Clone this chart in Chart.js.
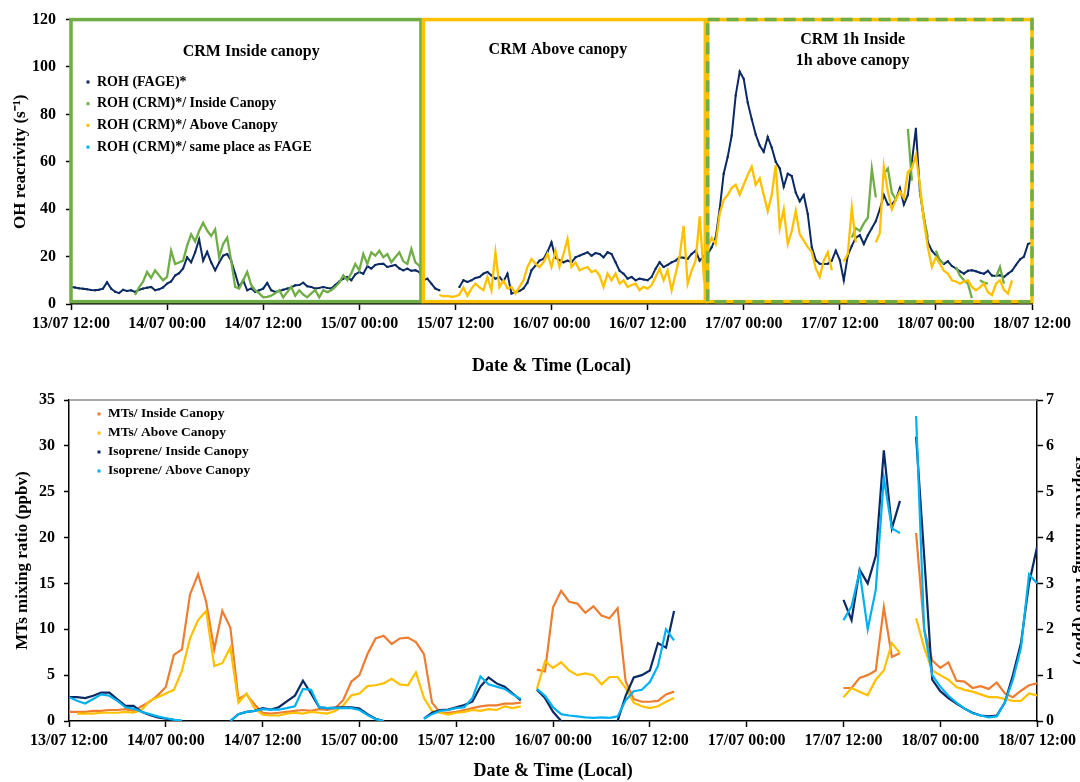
<!DOCTYPE html>
<html>
<head>
<meta charset="utf-8">
<script src="https://cdn.jsdelivr.net/npm/chart.js@4.4.1/dist/chart.umd.min.js"></script>
<style>
  html, body { margin: 0; padding: 0; background: #fff; }
  #wrap { position: relative; width: 1080px; height: 782px; overflow: hidden; }
  #top { position: absolute; left: 0; top: 0; width: 1080px; height: 380px; }
  #bot { position: absolute; left: 0; top: 380px; width: 1080px; height: 402px; }
</style>
</head>
<body>
<div id="wrap">
  <div id="top"><canvas id="ohChart"></canvas></div>
  <div id="bot"><canvas id="vocChart"></canvas></div>
</div>
<script>
// time = hours since 13/07 12:00, one tick label every 12 h
const tickLabels = ['13/07 12:00', '14/07 00:00', '14/07 12:00', '15/07 00:00', '15/07 12:00',
  '16/07 00:00', '16/07 12:00', '17/07 00:00', '17/07 12:00', '18/07 00:00', '18/07 12:00'];
const halfHours = Array.from({ length: 241 }, (_, i) => i / 2);   // top panel, 30 min
const hours = Array.from({ length: 121 }, (_, i) => i);           // bottom panel, 1 h

// OH reactivity (s-1), 30-min values, one row = 10 h
const ohFage = [
  7.2, 7.0, 6.6, 6.4, 6.2, 5.9, 5.8, 6.0, 6.5, 9.2, 6.5, 5.2, 4.6, 6.0, 5.5, 5.8, 5.1, 6.0, 6.5, 6.9,
  7.2, 5.8, 6.2, 7.0, 8.6, 9.5, 12.0, 13.0, 15.0, 19.7, 17.6, 21.8, 27.3, 18.3, 22.0, 17.6, 14.2, 17.5, 20.4, 21.1,
  18.3, 12.8, 7.2, 10.0, 5.8, 6.5, 5.1, 5.8, 6.5, 8.9, 5.8, 5.1, 5.5, 6.0, 6.5, 7.0, 7.9, 8.0, 9.0, 7.5,
  7.2, 6.5, 6.8, 7.2, 6.8, 6.5, 8.0, 9.5, 10.7, 11.4, 10.0, 12.5, 13.5, 12.8, 15.9, 15.0, 16.5, 16.9, 17.0, 15.6,
  16.0, 16.5, 15.0, 14.2, 14.9, 14.0, 14.2, 13.5, 10.0, 10.7, 8.6, 6.5, 5.8, null, null, null, null, 7.2, 10.0, 9.3,
  10.0, 11.0, 11.4, 12.8, 13.5, 12.0, 10.7, 11.4, 9.5, 12.8, 4.4, 5.1, 5.5, 6.5, 9.0, 14.2, 16.2, 18.3, 19.0, 22.0,
  26.0, 19.5, 18.5, 17.6, 18.3, 17.6, 19.7, 20.4, 21.1, 21.8, 20.4, 21.5, 21.1, 19.7, 21.8, 21.1, 17.6, 14.0, 12.8, 10.7,
  11.4, 10.0, 10.7, 10.3, 10.0, 11.4, 14.9, 17.6, 15.6, 16.5, 17.6, 18.3, 19.7, 19.5, 19.0, 21.1, 22.5, 18.3, 20.0, 21.1,
  23.9, 28.0, 40.0, 55.0, 62.0, 71.1, 88.0, 98.0, 95.0, 85.0, 78.0, 71.5, 66.9, 64.2, 70.5, 66.0, 60.0, 57.2, 49.5, 55.0,
  54.0, 47.0, 43.3, 46.0, 38.0, 24.0, 18.5, 17.0, 16.9, 17.0, 18.3, 22.5, 18.5, 10.0, 20.5, 24.5, 28.0, 29.0, 25.3, 29.0,
  32.0, 35.0, 40.0, 46.0, 42.0, 42.0, 44.0, 48.9, 42.0, 46.0, 60.0, 74.0, 47.5, 36.4, 26.0, 22.5, 20.5, 18.5, 16.9, 18.0,
  16.0, 15.0, 13.8, 12.8, 14.0, 14.2, 13.8, 13.2, 12.8, 14.0, 12.0, 11.8, 12.1, 11.4, 12.8, 14.0, 16.5, 18.8, 20.0, 25.3,
  26.0
];
const ohCrmIn = [
  null, null, null, null, null, null, null, null, null, null, null, null, null, null, null, null, 3.8, 7.0, 9.4, 13.5,
  11.0, 14.2, 12.0, 10.0, 11.4, 22.5, 16.9, 17.5, 18.3, 24.6, 29.4, 26.4, 30.8, 34.3, 31.0, 28.7, 31.5, 19.7, 25.3, 28.0,
  18.3, 7.2, 6.5, 10.0, 13.5, 8.0, 5.8, 4.5, 2.8, 3.0, 3.5, 4.5, 5.8, 2.8, 5.0, 7.2, 3.5, 5.8, 4.0, 2.8,
  4.5, 5.8, 2.8, 5.8, 5.0, 5.8, 7.2, 9.0, 12.1, 10.0, 13.0, 16.9, 14.2, 21.1, 16.9, 21.8, 20.4, 22.5, 19.7, 21.1,
  17.6, 19.7, 21.8, 18.0, 16.9, 23.2, 17.6, 16.2, 10.0, null, null, null, null, null, null, null, null, null, null, null,
  null, null, null, null, null, null, null, null, null, null, null, null, null, null, null, null, null, null, null, null,
  null, null, null, null, null, null, null, null, null, null, null, null, null, null, null, null, null, null, null, null,
  null, null, null, null, null, null, null, null, null, null, null, null, null, null, null, null, null, null, null, null,
  null, null, null, null, null, null, null, null, null, null, null, null, null, null, null, null, null, null, null, null,
  null, null, null, null, null, null, null, null, null, null, null, null, null, null, null, 28.0, 32.0, 30.8, 34.0, 36.4,
  57.0, 45.0, null, 55.0, 57.2, 47.0, 44.0, null, null, 73.9, 52.0, null, 47.5, 36.4, 28.0, null, 22.5, 18.3, 17.0, null,
  null, 15.6, 12.0, 10.0, 8.6, 2.4, null, 10.0, 9.0, 8.6, null, 11.4, 15.6, 8.6, null, null, null, null, null, null,
  null
];
const ohCrmAb = [
  null, null, null, null, null, null, null, null, null, null, null, null, null, null, null, null, null, null, null, null,
  null, null, null, null, null, null, null, null, null, null, null, null, null, null, null, null, null, null, null, null,
  null, null, null, null, null, null, null, null, null, null, null, null, null, null, null, null, null, null, null, null,
  null, null, null, null, null, null, null, null, null, null, null, null, null, null, null, null, null, null, null, null,
  null, null, null, null, null, null, null, null, null, null, null, null, 3.8, 3.2, 3.4, 3.0, 3.2, 4.0, 7.0, 3.5,
  6.5, 8.6, 7.0, 5.8, 11.4, 5.8, 21.8, 7.2, 10.0, 6.5, 7.2, 4.4, 7.2, 10.0, 15.6, 19.0, 17.0, 15.6, 17.6, 21.1,
  15.6, 22.5, 15.6, 21.1, 27.4, 15.6, 17.6, 14.2, 15.0, 15.6, 13.5, 14.2, 12.0, 7.2, 12.8, 10.0, 12.8, 8.6, 10.0, 7.2,
  8.0, 8.6, 5.8, 7.2, 6.5, 8.0, 11.4, 14.9, 10.0, 14.2, 5.8, 12.8, 20.0, 33.0, 8.6, 14.2, 18.3, 37.0, 12.8, 24.0,
  28.0, 25.3, 38.0, 44.0, 46.0, 49.0, 50.3, 46.1, 50.3, 54.4, 57.9, 50.3, 53.0, 46.0, 39.2, 46.1, 58.6, 32.2, 40.0, 25.3,
  30.8, 39.2, 29.4, 26.7, 24.0, 22.0, 15.0, 11.4, 18.3, 21.8, 14.2, null, null, 18.0, 21.1, 40.6, 26.0, null, null, null,
  null, 26.0, 30.0, 57.9, 47.5, 40.0, 44.0, 47.5, 44.7, 55.8, 57.2, 62.8, 50.3, 35.0, 23.9, 15.6, 19.7, 16.9, 14.0, 12.8,
  10.0, 9.5, 8.6, 9.5, 10.0, 7.2, 5.8, 7.0, 8.6, 5.0, 3.75, 8.6, 10.0, 6.0, 4.4, 10.0, null, null, null, null,
  null
];
const ohCrmFage = [];

// MTs (ppbv, left axis), hourly, one row = 10 h
const mtsIn = [
  1.0, 1.0, 1.0, 1.1, 1.1, 1.2, 1.2, 1.3, 1.1, 1.6,
  2.1, 2.8, 3.7, 7.2, 7.8, 13.8, 16.0, 13.0, 7.8, 12.0,
  10.2, 2.4, 2.9, 1.8, 0.9, 0.8, 0.9, 1.0, 1.1, 1.2,
  1.1, 1.3, 1.2, 1.4, 2.3, 4.3, 5.0, 7.3, 9.0, 9.3,
  8.4, 9.0, 9.1, 8.6, 7.3, 2.0, 0.9, 0.9, 1.0, 1.2,
  1.4, 1.6, 1.7, 1.7, 1.9, 1.9, 2.0, null, 5.6, 5.4,
  12.4, 14.2, 13.0, 12.8, 11.8, 12.5, 11.5, 11.2, 12.3, 4.3,
  2.4, 2.1, 2.1, 2.2, 2.9, 3.2, null, null, null, null,
  null, null, null, null, null, null, null, null, null, null,
  null, null, null, null, null, null, 3.6, 3.6, 4.7, 5.0,
  5.5, 12.4, 7.0, 7.4, null, 20.5, 10.0, 6.6, 5.8, 6.4,
  4.4, 4.3, 3.6, 3.8, 3.5, 4.2, 3.0, 2.6, 3.3, 3.9,
  4.1
];
const mtsAb = [
  null, 0.8, 0.8, 0.8, 0.9, 0.9, 0.9, 1.0, 0.9, 1.2,
  2.2, 2.6, 3.0, 3.4, 5.5, 9.0, 11.0, 12.0, 6.0, 6.3,
  8.0, 2.0, 3.0, 1.4, 0.7, 0.6, 0.6, 0.8, 0.9, 0.8,
  1.0, 0.9, 0.8, 1.1, 1.7, 2.8, 3.0, 3.8, 3.9, 4.1,
  4.6, 4.0, 3.9, 5.3, 2.5, 1.1, 0.9, 0.7, 0.9, 1.0,
  1.2, 1.1, 1.3, 1.2, 1.6, 1.4, 1.6, null, 3.5, 6.5,
  5.8, 6.4, 5.5, 5.0, 5.2, 5.0, 4.0, 4.8, 4.8, 3.6,
  2.0, 1.6, 1.4, 1.6, 2.1, 2.5, null, null, null, null,
  null, null, null, null, null, null, null, null, null, null,
  null, null, null, null, null, null, 2.6, 3.6, 3.2, 2.8,
  4.5, 5.5, 8.5, 7.4, null, 11.2, 8.0, 5.5, 5.0, 4.5,
  3.7, 3.4, 3.2, 2.9, 2.6, 2.6, 2.4, 2.2, 2.2, 3.0,
  2.8
];
// Isoprene (ppbv, right axis), hourly
const isoIn = [
  0.52, 0.52, 0.50, 0.55, 0.62, 0.62, 0.47, 0.33, 0.33, 0.20,
  0.13, 0.08, 0.05, 0.02, 0.0, null, null, null, null, null,
  0.0, 0.15, 0.20, 0.22, 0.28, 0.25, 0.30, 0.43, 0.55, 0.88,
  0.60, 0.30, 0.28, 0.29, 0.30, 0.30, 0.27, 0.15, 0.05, 0.0,
  null, null, null, null, 0.05, 0.18, 0.24, 0.25, 0.30, 0.35,
  0.42, 0.75, 0.95, 0.82, 0.75, 0.60, 0.45, null, 0.68, 0.50,
  0.20, 0.0, null, null, null, null, null, null, 0.0, 0.55,
  0.95, 1.0, 1.1, 1.7, 1.6, 2.4, null, null, null, null,
  null, null, null, null, null, null, null, null, null, null,
  null, null, null, null, null, null, 2.64, 2.2, 3.3, 3.0,
  3.6, 5.9, 4.2, 4.8, null, 6.2, 3.6, 0.9, 0.65, 0.5,
  0.38, 0.27, 0.18, 0.12, 0.1, 0.12, 0.4, 1.0, 1.7, 3.0,
  3.8
];
const isoAb = [
  0.52, 0.44, 0.38, 0.48, 0.58, 0.55, 0.44, 0.30, 0.27, 0.20,
  0.15, 0.10, 0.06, 0.03, 0.01, null, null, null, null, null,
  0.0, 0.15, 0.20, 0.22, 0.26, 0.25, 0.25, 0.28, 0.32, 0.70,
  0.68, 0.30, 0.28, 0.28, 0.28, 0.28, 0.24, 0.13, 0.04, 0.0,
  null, null, null, null, 0.05, 0.15, 0.22, 0.24, 0.28, 0.30,
  0.50, 0.97, 0.80, 0.75, 0.70, 0.58, 0.48, null, 0.70, 0.55,
  0.30, 0.15, 0.12, 0.10, 0.08, 0.07, 0.08, 0.07, 0.10, 0.45,
  0.65, 0.68, 0.85, 1.2, 2.0, 1.76, null, null, null, null,
  null, null, null, null, null, null, null, null, null, null,
  null, null, null, null, null, null, 2.2, 2.5, 3.26, 2.0,
  2.86, 5.3, 4.2, 4.1, null, 6.65, 2.0, 1.0, 0.75, 0.55,
  0.40, 0.27, 0.17, 0.12, 0.08, 0.10, 0.4, 0.9, 1.6, 3.2,
  3.0
];

// CRM sampling periods (hours) drawn as frames in the top panel
const periods = [
  { from: 0, to: 43.7, line: '#70AD47' },
  { from: 44.0, to: 79.2, line: '#FFC000' },
  { from: 79.5, to: 120, line: '#FFC000', dash: '#70AD47' }
];
const periodTitles = [
  { h: 22.5, v: 106.5, text: 'CRM Inside canopy' },
  { h: 60.8, v: 107.2, text: 'CRM Above canopy' },
  { h: 97.6, v: 111.6, text: 'CRM 1h Inside' },
  { h: 97.6, v: 102.8, text: '1h above canopy' }
];

const NAVY = '#0B2A63', GREEN = '#70AD47', YELLOW = '#FFC000', SKY = '#00B0F0', ORANGE = '#ED7D31';
const serif = '"Liberation Serif", "Times New Roman", serif';
Chart.defaults.font.family = serif;
Chart.defaults.font.weight = 'bold';
Chart.defaults.color = '#000';

function pts(times, vals) {
  return times.map((t, i) => ({ x: t, y: vals[i] === undefined ? null : vals[i] }));
}

function xAxis(height, pad, titlePad) {
  return {
    type: 'linear', min: 0, max: 120,
    afterFit: s => { s.height = height; },
    ticks: { stepSize: 12, autoSkip: false, maxRotation: 0, padding: pad, font: { size: 16 },
      callback: v => tickLabels[v / 12] },
    grid: { drawOnChartArea: false, tickLength: 6, tickColor: '#000', tickWidth: 1.5 },
    border: { color: '#000', width: 1.5 },
    title: { display: true, text: 'Date & Time (Local)', font: { size: 18 }, padding: { bottom: titlePad } }
  };
}

function drawLegend(ctx, items, x0, y0, step, size) {
  ctx.font = 'bold ' + size + 'px ' + serif;
  ctx.textBaseline = 'middle';
  ctx.textAlign = 'left';
  items.forEach((it, i) => {
    const y = y0 + i * step;
    ctx.fillStyle = it.color;
    ctx.fillRect(x0 - 1.5, y - 1.5, 3, 3);
    ctx.fillStyle = '#000';
    ctx.fillText(it.label, x0 + 9, y);
  });
}

const ohDecor = {
  id: 'ohDecor',
  afterDatasetsDraw(chart) {
    const { ctx, scales: { x, y } } = chart;
    ctx.save();
    ctx.lineWidth = 3.5;
    periods.forEach(p => {
      const l = x.getPixelForValue(p.from), r = x.getPixelForValue(p.to);
      const t = y.getPixelForValue(120), b = y.getPixelForValue(1);
      ctx.setLineDash([]);
      ctx.strokeStyle = p.line;
      ctx.strokeRect(l, t, r - l, b - t);
      if (p.dash) {
        ctx.setLineDash([12, 7]);
        ctx.strokeStyle = p.dash;
        ctx.strokeRect(l, t, r - l, b - t);
      }
    });
    ctx.setLineDash([]);
    ctx.font = 'bold 16px ' + serif;
    ctx.fillStyle = '#000';
    ctx.textAlign = 'center';
    ctx.textBaseline = 'middle';
    periodTitles.forEach(t => ctx.fillText(t.text, x.getPixelForValue(t.h), y.getPixelForValue(t.v)));
    const items = chart.data.datasets.map(d => ({ label: d.label, color: d.borderColor }));
    drawLegend(ctx, items, chart.chartArea.left + 17, 82, 21.7, 14);
    ctx.restore();
  }
};

const vocDecor = {
  id: 'vocDecor',
  afterDatasetsDraw(chart) {
    const { ctx, chartArea: a } = chart;
    ctx.save();
    ctx.strokeStyle = '#8c8c8c';
    ctx.lineWidth = 1.5;
    ctx.beginPath();
    ctx.moveTo(a.left, a.top);
    ctx.lineTo(a.right, a.top);
    ctx.stroke();
    const items = chart.data.datasets.map(d => ({ label: d.label, color: d.borderColor }));
    drawLegend(ctx, items, a.left + 30, a.top + 14, 19, 13.5);
    ctx.restore();
  }
};

const common = {
  responsive: true,
  maintainAspectRatio: false,
  animation: false,
  events: [],
  plugins: { legend: { display: false }, tooltip: { enabled: false } }
};

new Chart(document.getElementById('ohChart'), {
  type: 'line',
  data: {
    datasets: [
      { label: 'ROH (FAGE)*', data: pts(halfHours, ohFage), borderColor: NAVY, backgroundColor: NAVY,
        borderWidth: 2, pointRadius: 1.4, pointStyle: 'rect', pointBorderWidth: 0, order: 3 },
      { label: 'ROH (CRM)*/ Inside Canopy', data: pts(halfHours, ohCrmIn), borderColor: GREEN, backgroundColor: GREEN,
        borderWidth: 2.3, pointRadius: 0, order: 2 },
      { label: 'ROH (CRM)*/ Above Canopy', data: pts(halfHours, ohCrmAb), borderColor: YELLOW, backgroundColor: YELLOW,
        borderWidth: 2.3, pointRadius: 0, order: 1 },
      { label: 'ROH (CRM)*/ same place as FAGE', data: pts(halfHours, ohCrmFage), borderColor: SKY, backgroundColor: SKY,
        borderWidth: 2, pointRadius: 0, order: 0 }
    ]
  },
  options: Object.assign({}, common, {
    layout: { padding: { top: 16, right: 48, left: 0, bottom: 0 } },
    scales: {
      x: xAxis(76, 4, 3),
      y: {
        min: 0, max: 120,
        afterFit: s => { s.width = 71; },
        ticks: { stepSize: 20, padding: 10, font: { size: 16 } },
        grid: { drawOnChartArea: false, tickLength: 5, tickColor: '#000', tickWidth: 1.5 },
        border: { color: '#000', width: 1.5 },
        title: { display: true, text: 'OH reacrivity (s⁻¹)', font: { size: 17 }, padding: { top: 10 } }
      }
    }
  }),
  plugins: [ohDecor]
});

new Chart(document.getElementById('vocChart'), {
  type: 'line',
  data: {
    datasets: [
      { label: 'MTs/ Inside Canopy', data: pts(hours, mtsIn), borderColor: ORANGE, backgroundColor: ORANGE,
        borderWidth: 2.2, pointRadius: 0, yAxisID: 'y', order: 3 },
      { label: 'MTs/ Above Canopy', data: pts(hours, mtsAb), borderColor: YELLOW, backgroundColor: YELLOW,
        borderWidth: 2.2, pointRadius: 0, yAxisID: 'y', order: 2 },
      { label: 'Isoprene/ Inside Canopy', data: pts(hours, isoIn), borderColor: NAVY, backgroundColor: NAVY,
        borderWidth: 2.2, pointRadius: 0, yAxisID: 'y2', order: 1 },
      { label: 'Isoprene/ Above Canopy', data: pts(hours, isoAb), borderColor: SKY, backgroundColor: SKY,
        borderWidth: 2.2, pointRadius: 0, yAxisID: 'y2', order: 0 }
    ]
  },
  options: Object.assign({}, common, {
    layout: { padding: { top: 20, right: 0, left: 0, bottom: 0 } },
    scales: {
      x: xAxis(61, 4, 0),
      y: {
        position: 'left', min: 0, max: 35,
        afterFit: s => { s.width = 69; },
        ticks: { stepSize: 5, padding: 9, font: { size: 16 } },
        grid: { drawOnChartArea: false, tickLength: 5, tickColor: '#000', tickWidth: 1.5 },
        border: { color: '#000', width: 1.5 },
        title: { display: true, text: 'MTs mixing ratio (ppbv)', font: { size: 17 }, padding: { top: 12 } }
      },
      y2: {
        position: 'right', min: 0, max: 7,
        afterFit: s => { s.width = 42; },
        ticks: { stepSize: 1, padding: 3, font: { size: 16 } },
        grid: { drawOnChartArea: false, tickLength: 6, tickColor: '#000', tickWidth: 1.5 },
        border: { color: '#000', width: 1.5 },
        title: { display: true, text: 'Isoprene mixing ratio (ppbv)', font: { size: 17 }, padding: { top: -11 } }
      }
    }
  }),
  plugins: [vocDecor]
});
</script>
</body>
</html>
